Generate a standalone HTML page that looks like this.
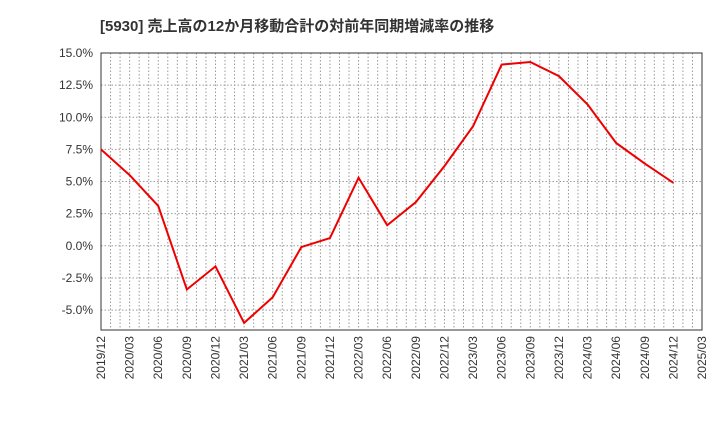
<!DOCTYPE html>
<html><head><meta charset="utf-8"><style>
body{margin:0;background:#fff;width:720px;height:440px;overflow:hidden}
text{font-family:"Liberation Sans","Noto Sans CJK JP",sans-serif}
</style></head><body>
<svg id="chart" width="720" height="440">
<text x="100" y="31" font-size="15" font-weight="bold" fill="#333">[5930]  売上高の12か月移動合計の対前年同期増減率の推移</text>
<g id="grid"></g><g id="axes"></g><g id="series"></g>
</svg>
<script>
const categories=["2019/12","2020/03","2020/06","2020/09","2020/12","2021/03","2021/06","2021/09","2021/12","2022/03","2022/06","2022/09","2022/12","2023/03","2023/06","2023/09","2023/12","2024/03","2024/06","2024/09","2024/12","2025/03"];
const values=[7.5,5.5,3.1,-3.4,-1.6,-6.0,-4.0,-0.1,0.6,5.3,1.6,3.4,6.2,9.3,14.1,14.3,13.2,11.0,8.0,6.4,4.9];
const yTicks=[15,12.5,10,7.5,5,2.5,0,-2.5,-5];
const L=101,R=702,T=53,B=330,yMax=15,yMin=-6.55;
const ns="http://www.w3.org/2000/svg";
const x=i=>L+(R-L)*i/(categories.length-1);
const y=v=>T+(yMax-v)/(yMax-yMin)*(B-T);
function mk(tag,attrs,parent){const e=document.createElementNS(ns,tag);for(const k in attrs)e.setAttribute(k,attrs[k]);document.getElementById(parent).appendChild(e);return e;}
for(let m=1;m<(categories.length-1)*3;m++){const xx=L+(R-L)*m/((categories.length-1)*3);
const g=mk("line",{x1:xx,x2:xx,y1:T,y2:B,stroke:"#999","stroke-dasharray":"1.5,2"},"grid");

}
yTicks.forEach(v=>{const g=mk("line",{x1:L,x2:R,y1:y(v),y2:y(v),stroke:"#999","stroke-dasharray":"1.5,2"},"grid");


const t=mk("text",{x:L-8,y:y(v)+4,"text-anchor":"end","font-size":"12",fill:"#333"},"axes");t.textContent=v.toFixed(1)+"%";

});
categories.forEach((c,i)=>{const t=mk("text",{transform:`translate(${x(i)+4},${B+6}) rotate(-90)`,"text-anchor":"end","font-size":"12",fill:"#333"},"axes");t.textContent=c;

});
const f=mk("rect",{x:L,y:T,width:R-L,height:B-T,fill:"none",stroke:"#333","stroke-width":1},"axes");


const p=mk("polyline",{points:values.map((v,i)=>x(i)+","+y(v)).join(" "),fill:"none",stroke:"#e00",'stroke-width':2},"series");


</script>
</body></html>
